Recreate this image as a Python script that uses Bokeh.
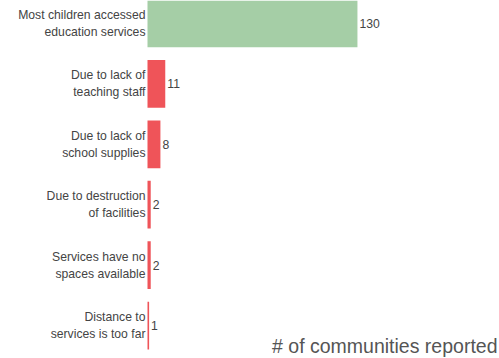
import numpy as np
from bokeh.plotting import figure
from bokeh.models import ColumnDataSource, Range1d, Label
from bokeh.core.properties import value
from bokeh.embed import file_html
from bokeh.resources import INLINE

categories = [
    "Most children accessed\neducation services",
    "Due to lack of\nteaching staff",
    "Due to lack of\nschool supplies",
    "Due to destruction\nof facilities",
    "Services have no\nspaces available",
    "Distance to\nservices is too far",
]
counts = [130, 11, 8, 2, 2, 1]
colors = ["#a5cea6", "#ef5459", "#ef5459", "#ef5459", "#ef5459", "#ef5459"]
axis_title = "# of communities reported"

pos = list(range(len(categories)))
src = ColumnDataSource(dict(y=pos, v=counts, c=colors, cat=categories,
                            vl=[str(v) for v in counts], zero=[0] * len(pos)))

p = figure(width=499, height=358, output_backend="svg", toolbar_location=None,
           x_range=Range1d(-91.02, 217.96), y_range=Range1d(5.546, -0.381),
           min_border=0, min_border_left=0, min_border_right=0,
           min_border_top=0, min_border_bottom=0)
p.outline_line_color = None
p.axis.visible = False
p.grid.visible = False
p.background_fill_color = "white"
p.border_fill_color = "white"

p.hbar(y="y", left=0, right="v", height=0.79, fill_color="c", line_color=None, source=src)

p.text(x="zero", y="y", text="cat", source=src, x_offset=-2, text_align="right",
       text_baseline="middle", text_font=value("Liberation Sans"), text_font_size="12.2px",
       text_color="#444444", text_line_height=1.22)
p.text(x="v", y="y", text="vl", source=src, x_offset=2, text_align="left",
       text_baseline="middle", text_font=value("Liberation Sans"), text_font_size="12.2px",
       text_color="#444444")

p.add_layout(Label(x=497, y=2, x_units="screen", y_units="screen", text=axis_title,
                   text_align="right", text_baseline="bottom",
                   text_font="Liberation Sans", text_font_size="19.5px", text_color="#555555"))

open("out.html", "w").write(file_html(p, INLINE))
